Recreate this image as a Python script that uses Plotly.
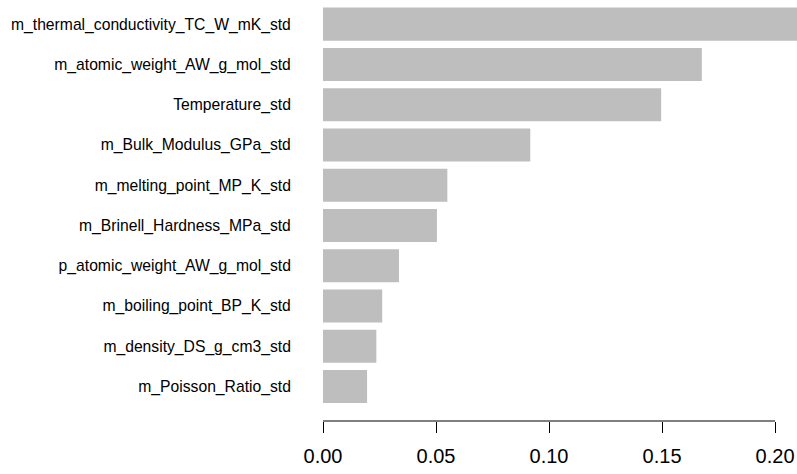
import plotly.graph_objects as go

# Feature importances (standardised predictors), largest first
features = [
    "m_thermal_conductivity_TC_W_mK_std",
    "m_atomic_weight_AW_g_mol_std",
    "Temperature_std",
    "m_Bulk_Modulus_GPa_std",
    "m_melting_point_MP_K_std",
    "m_Brinell_Hardness_MPa_std",
    "p_atomic_weight_AW_g_mol_std",
    "m_boiling_point_BP_K_std",
    "m_density_DS_g_cm3_std",
    "m_Poisson_Ratio_std",
]
importance = [0.212, 0.1676, 0.1496, 0.0917, 0.0550, 0.0504, 0.0336, 0.0262, 0.0236, 0.0195]

x_ticks = [0.00, 0.05, 0.10, 0.15, 0.20]
x_tick_labels = ["0.00", "0.05", "0.10", "0.15", "0.20"]

fig = go.Figure(
    go.Bar(
        x=importance,
        y=features,
        orientation="h",
        width=0.82,
        marker=dict(color="#bebebe", line=dict(width=0)),
        hoverinfo="x+y",
    )
)

fig.update_layout(
    width=797,
    height=474,
    margin=dict(l=323, r=0, t=4, b=53),
    paper_bgcolor="white",
    plot_bgcolor="white",
    showlegend=False,
    font=dict(family="Liberation Sans, Arial, sans-serif", color="black"),
)

fig.update_xaxes(
    range=[0, 0.2097],
    tickvals=x_ticks,
    ticktext=x_tick_labels,
    ticks="outside",
    ticklen=11,
    tickwidth=1,
    tickcolor="black",
    tickfont=dict(size=20),
    ticklabelstandoff=6,
    showline=False,
    showgrid=False,
    zeroline=False,
)

fig.update_yaxes(
    type="category",
    categoryorder="array",
    categoryarray=features,
    range=[9.858, -0.5],
    ticks="outside",
    ticklen=28,
    tickcolor="rgba(0,0,0,0)",
    tickfont=dict(size=15.7),
    showline=False,
    showgrid=False,
    zeroline=False,
)

# Axis line spans only the labelled tick range, 0 to 0.20
fig.add_shape(
    type="line",
    xref="x",
    yref="paper",
    x0=x_ticks[0],
    x1=x_ticks[-1],
    y0=0,
    y1=0,
    line=dict(color="black", width=1),
)

fig.write_html("out.html")
